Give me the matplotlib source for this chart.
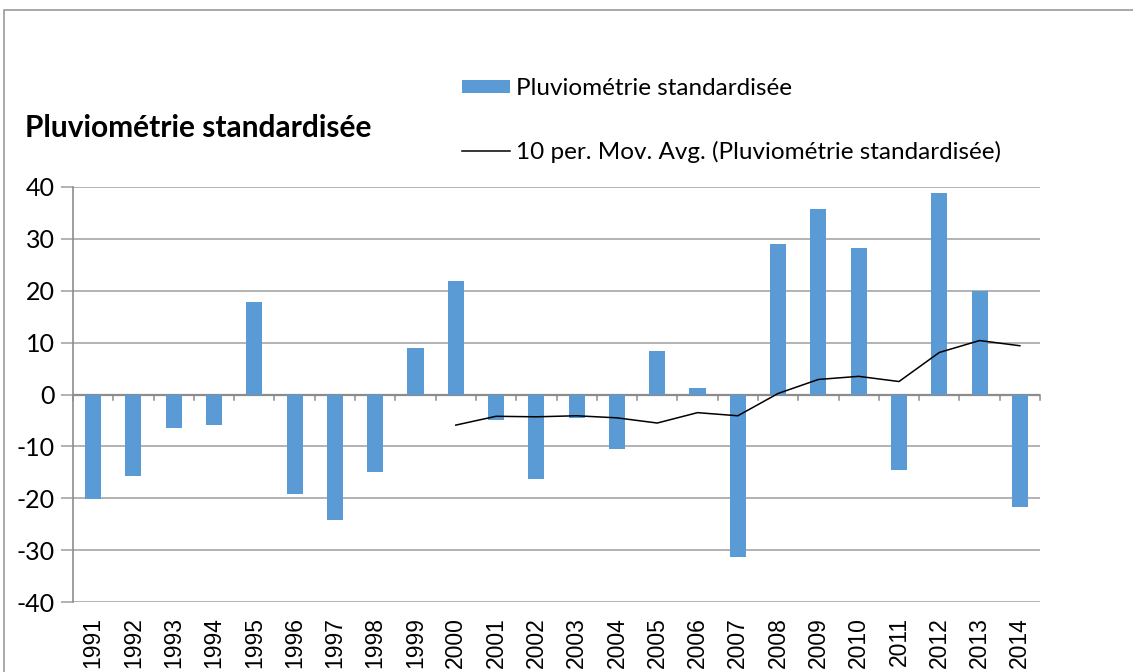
import matplotlib.pyplot as plt
from matplotlib.patches import Patch, Rectangle
from matplotlib.lines import Line2D

plt.rcParams["axes.unicode_minus"] = False

years = [str(y) for y in range(1991, 2015)]
pluvio = [-20.2, -15.8, -6.5, -5.9, 17.8, -19.1, -24.1, -15.0, 9.0, 21.8,
          -5.0, -16.3, -4.5, -10.5, 8.4, 1.2, -31.4, 29.0, 35.8, 28.3,
          -14.6, 38.8, 19.9, -21.7]
# 10 period moving average (starts at 2000)
mov_avg = [-5.9, -4.2, -4.3, -4.1, -4.5, -5.5, -3.5, -4.1, 0.2, 2.9,
           3.5, 2.5, 8.1, 10.4, 9.4]
mov_years = years[9:]

BAR_COLOR = "#5B9BD5"
GRID_COLOR = "#A6A6A6"
AXIS_COLOR = "#8C8C8C"
FONT = "Lato"

fig = plt.figure(figsize=(11.33, 6.72), dpi=100)
ax = fig.add_axes([73 / 1133, 1 - 602 / 672, (1040 - 73) / 1133, (602 - 187) / 672])

x = list(range(len(years)))
ax.bar(x, pluvio, width=0.4, color=BAR_COLOR, zorder=3)
mx = [years.index(y) for y in mov_years]
ax.plot(mx, mov_avg, color="black", linewidth=1.1, zorder=4)

ax.set_xlim(-0.5, len(years) - 0.5)
ax.set_ylim(-40, 40)
ax.set_yticks(range(-40, 41, 10))
ax.yaxis.grid(True, color=GRID_COLOR, linewidth=1.2, zorder=0)
ax.set_axisbelow(True)

for side in ["top", "right", "bottom"]:
    ax.spines[side].set_visible(False)
ax.spines["left"].set_color(AXIS_COLOR)
ax.spines["left"].set_linewidth(1.2)

# zero line with category tick marks
ax.axhline(0, color=AXIS_COLOR, linewidth=1.6, zorder=2)
for b in range(len(years) + 1):
    ax.plot([b - 0.5, b - 0.5], [0, -1.1], color=AXIS_COLOR, linewidth=1.1,
            zorder=2, clip_on=False)

ax.set_xticks(x)
ax.set_xticklabels(years, rotation=90, fontsize=16.5, family="Liberation Sans")
ax.tick_params(axis="x", length=0, pad=11)
ax.tick_params(axis="y", length=9, color=GRID_COLOR, width=1.2, labelsize=18, pad=4)
for lab in ax.get_yticklabels():
    lab.set_family(FONT)

fig.text(25 / 1133, 1 - 128 / 672, "Pluviométrie standardisée", fontsize=21.5,
         fontweight="bold", family=FONT, va="center", ha="left")

handles = [Patch(facecolor=BAR_COLOR, edgecolor="none"),
           Line2D([0], [0], color="black", linewidth=1.1)]
labels = ["Pluviométrie standardisée",
          "10 per. Mov. Avg. (Pluviométrie standardisée)"]
fig.legend(handles, labels, loc="upper left",
           bbox_to_anchor=(452 / 1133, 1 - 68 / 672), frameon=False,
           prop={"family": FONT, "size": 17.5}, labelspacing=1.73,
           handlelength=2.0, handleheight=0.45, handletextpad=0.25,
           borderaxespad=0)

# outer chart border
fig.patches.append(Rectangle((4 / 1133, -0.1), 1.2, 1 - 10 / 672 + 0.1,
                             transform=fig.transFigure, fill=False,
                             edgecolor="#9A9A9A", linewidth=1.2))

fig.savefig("out.png", dpi=100)
